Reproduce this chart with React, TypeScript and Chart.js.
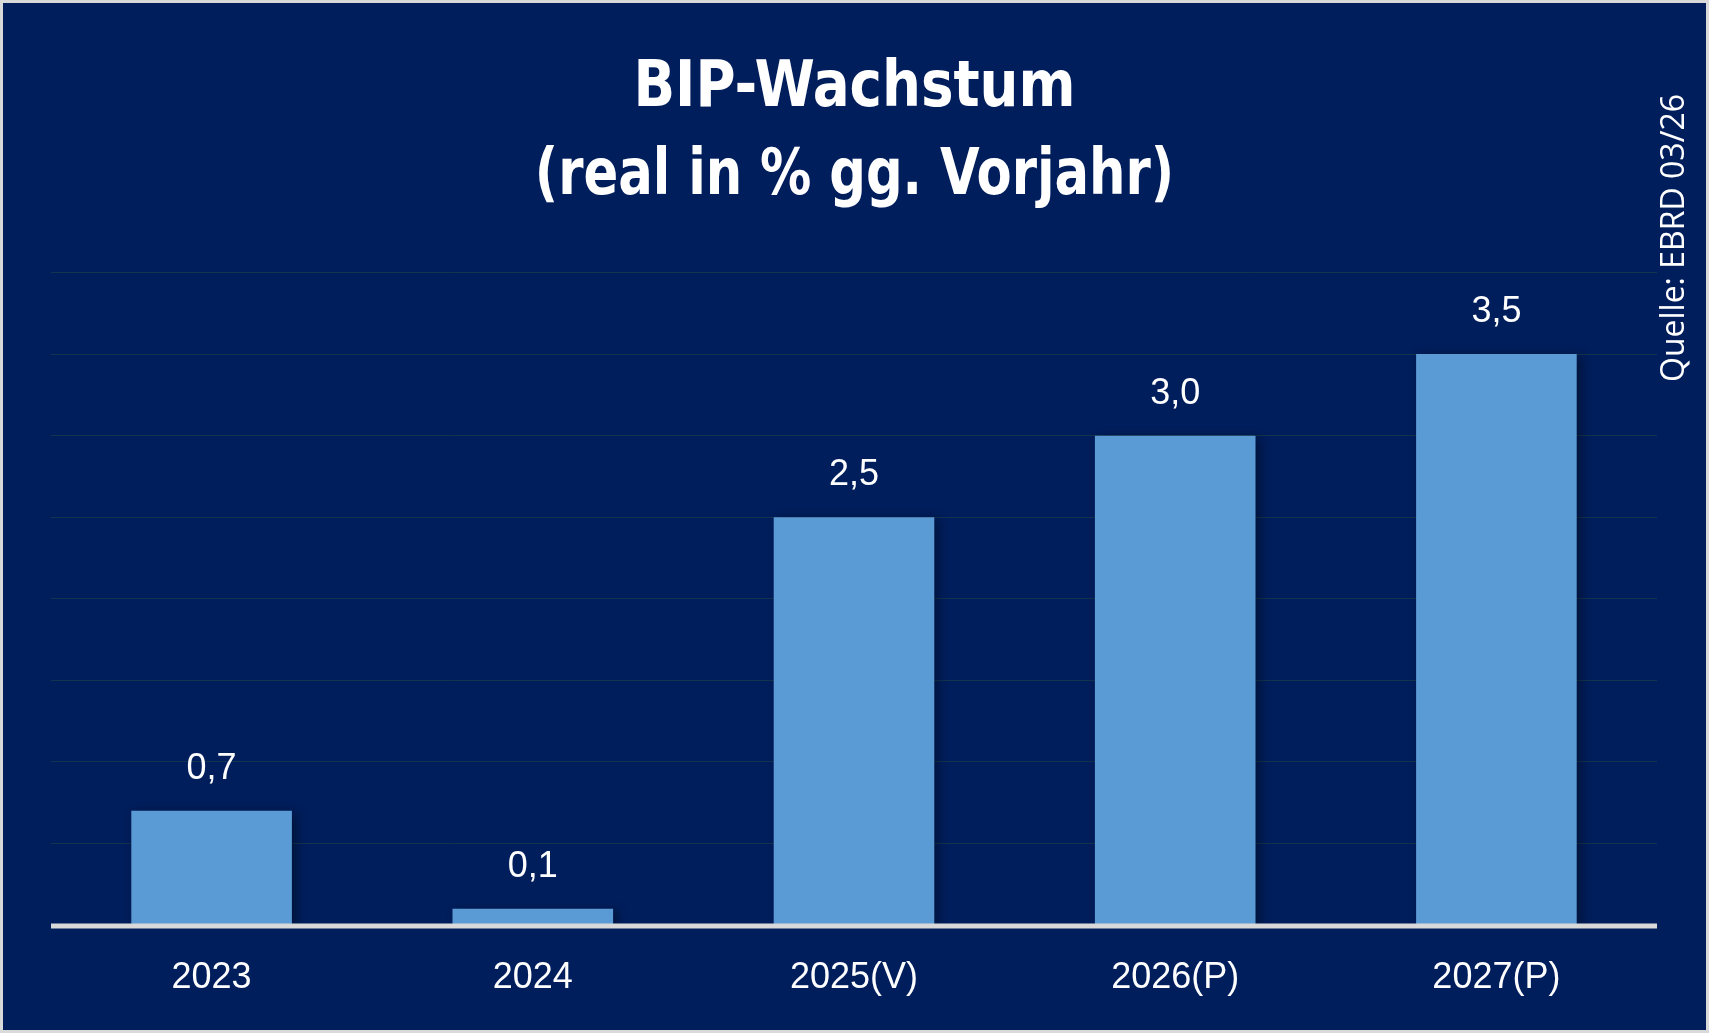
import { useEffect, useRef } from "react";
import { Chart, registerables } from "chart.js";
import type { Plugin } from "chart.js";

Chart.register(...registerables);

const years = ["2023", "2024", "2025(V)", "2026(P)", "2027(P)"];
const growth = [0.7, 0.1, 2.5, 3.0, 3.5];
const titleLines = ["BIP-Wachstum", "(real in % gg. Vorjahr)"];
const sourceNote = "Quelle: EBRD 03/26";

const NAVY = "#001e5c";
const BAR = "#5b9bd5";

// bar shadow + baseline + value labels + title + source note
const decorPlugin: Plugin<"bar"> = {
  id: "decor",
  beforeDatasetsDraw(chart) {
    const ctx = chart.ctx;
    ctx.save();
    ctx.shadowColor = "rgba(0, 0, 0, 0.4)";
    ctx.shadowBlur = 10;
    ctx.shadowOffsetX = 4;
    ctx.shadowOffsetY = 2;
  },
  afterDatasetsDraw(chart) {
    const ctx = chart.ctx;
    ctx.restore();

    const { left, right } = chart.chartArea;
    const y0 = chart.scales.y.getPixelForValue(0);
    ctx.save();
    ctx.strokeStyle = "#d9d9d9";
    ctx.lineWidth = 5;
    ctx.beginPath();
    ctx.moveTo(left, y0 + 1);
    ctx.lineTo(right, y0 + 1);
    ctx.stroke();

    ctx.fillStyle = "#ffffff";
    ctx.font = "36px 'Liberation Sans', Arial, sans-serif";
    ctx.textAlign = "center";
    ctx.textBaseline = "alphabetic";
    chart.getDatasetMeta(0).data.forEach((bar, i) => {
      const label = growth[i].toFixed(1).replace(".", ",");
      ctx.fillText(label, bar.x, bar.y - 32);
    });
    ctx.restore();

    // title, squeezed horizontally to look condensed
    const cx = chart.width / 2;
    ctx.save();
    ctx.fillStyle = "#ffffff";
    ctx.textAlign = "center";
    ctx.textBaseline = "alphabetic";
    ctx.font = "bold 64px 'DejaVu Sans Condensed', 'DejaVu Sans', sans-serif";
    ctx.translate(cx, 0);
    ctx.scale(0.95, 1);
    ctx.fillText(titleLines[0], 0, 103);
    ctx.restore();
    ctx.save();
    ctx.fillStyle = "#ffffff";
    ctx.textAlign = "center";
    ctx.textBaseline = "alphabetic";
    ctx.font = "bold 64px 'DejaVu Sans Condensed', 'DejaVu Sans', sans-serif";
    ctx.translate(cx, 0);
    ctx.scale(0.89, 1);
    ctx.fillText(titleLines[1], 0, 191);
    ctx.restore();

    ctx.save();
    ctx.fillStyle = "#ffffff";
    ctx.translate(1672, 235);
    ctx.rotate(-Math.PI / 2);
    ctx.font = "32px 'Open Sans', 'Noto Sans', sans-serif";
    ctx.textAlign = "center";
    ctx.textBaseline = "middle";
    ctx.fillText(sourceNote, 0, 0);
    ctx.restore();
  },
};

export default function App() {
  const canvasRef = useRef<HTMLCanvasElement>(null);

  useEffect(() => {
    if (!canvasRef.current) return;
    const chart = new Chart(canvasRef.current, {
      type: "bar",
      data: {
        labels: years,
        datasets: [
          {
            data: growth,
            backgroundColor: BAR,
            borderWidth: 0,
            barPercentage: 0.5,
            categoryPercentage: 1,
          },
        ],
      },
      options: {
        responsive: true,
        maintainAspectRatio: false,
        animation: false,
        layout: { padding: { left: 48, right: 49, top: 269.5, bottom: 0 } },
        plugins: {
          legend: { display: false },
          tooltip: { enabled: false },
          title: { display: false },
        },
        scales: {
          x: {
            grid: { display: false, drawTicks: false },
            border: { display: false },
            ticks: {
              color: "#ffffff",
              padding: 31,
              font: { family: "'Liberation Sans', Arial, sans-serif", size: 36 },
            },
            afterFit(scale) {
              scale.height = 105;
            },
          },
          y: {
            min: 0,
            max: 4,
            grid: { color: "#14334f", lineWidth: 1, drawTicks: false },
            border: { display: false },
            ticks: { display: false, stepSize: 0.5 },
            afterFit(scale) {
              scale.width = 0;
            },
          },
        },
      },
      plugins: [decorPlugin],
    });
    return () => chart.destroy();
  }, []);

  return (
    <div
      style={{
        position: "fixed",
        left: 0,
        top: 0,
        width: 1709,
        height: 1033,
        boxSizing: "border-box",
        border: "3px solid #d9d9d9",
        background: NAVY,
      }}
    >
      <div style={{ position: "relative", width: "100%", height: "100%" }}>
        <canvas ref={canvasRef} />
      </div>
    </div>
  );
}
